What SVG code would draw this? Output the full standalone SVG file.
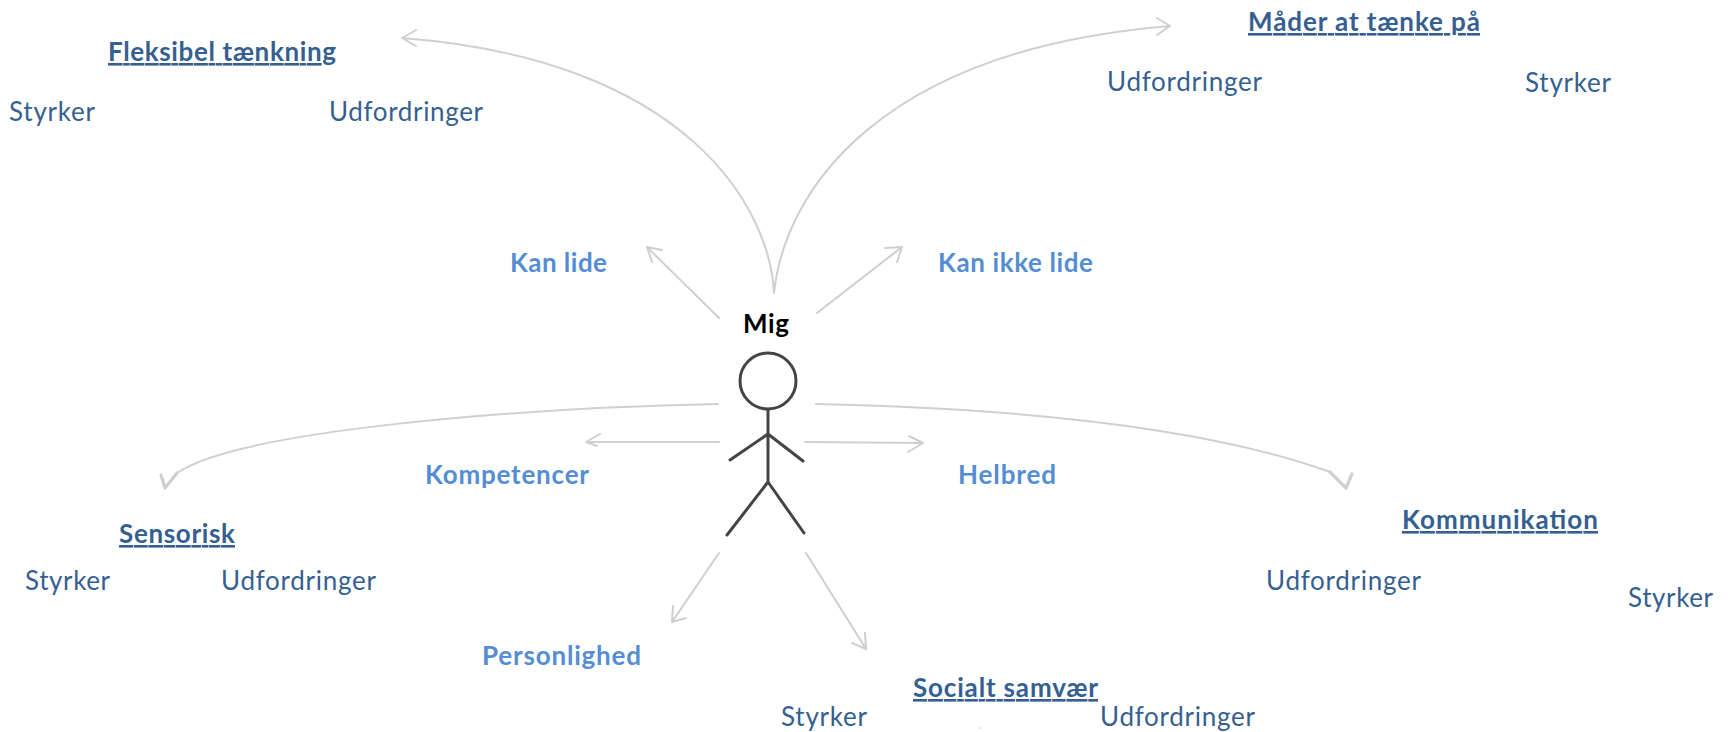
<svg xmlns="http://www.w3.org/2000/svg" width="1731" height="732" viewBox="0 0 1731 732">
<style>
text{font-family:"Lato","Open Sans","Liberation Sans",sans-serif;font-size:26px}
.h{font-weight:700;fill:#365f91;text-decoration:underline}
.s{fill:#365f91}
.k{font-weight:700;fill:#548dd4}
.m{font-weight:700;fill:#000}
.c{fill:none;stroke:#cfcfcf;stroke-width:2;stroke-linecap:round;stroke-linejoin:round}
.t{stroke-width:3.2}
.f{fill:none;stroke:#444;stroke-width:3;stroke-linecap:round}
</style>
<rect width="1731" height="732" fill="#fff"/>
<g id="connectors">
<path class="c" d="M774,293C770,210 690,60 402,38M416,30L402,38L416,46"/>
<path class="c" d="M774,293C785,190 880,50 1170,26M1157,18L1170,26L1157,35"/>
<path class="c" d="M719,318L647,247M662,250L647,247L652,262"/>
<path class="c" d="M817,313L902,247M885,248L902,247L897,262"/>
<path class="c" d="M718,404C520,408 240,430 177,473"/>
<path class="c t" d="M161,475L165,488L177,473"/>
<path class="c" d="M816,404C1000,408 1200,425 1330,472"/>
<path class="c t" d="M1330,472L1346,488L1352,474"/>
<path class="c" d="M719,442L586,442M600,434L586,442L597,446"/>
<path class="c" d="M805,442L923,443M909,436L923,443L908,452"/>
<path class="c" d="M719,553L672,622M686,618L672,622L673,606"/>
<path class="c" d="M806,553L866,649M852,643L866,649L865,633"/>
</g>
<g id="mig">
<text class="m" x="743" y="333" textLength="46">Mig</text>
<circle class="f" cx="768" cy="381" r="28"/>
<path class="f" d="M768,409V482M768,434L730,460M768,434L803,461M768,482L727,535M768,482L804,533"/>
</g>
<g id="kan-lide"><text class="k" x="510" y="272" textLength="97">Kan lide</text></g>
<g id="kan-ikke-lide"><text class="k" x="938" y="272" textLength="155">Kan ikke lide</text></g>
<g id="kompetencer"><text class="k" x="425" y="484" textLength="164">Kompetencer</text></g>
<g id="helbred"><text class="k" x="958" y="484" textLength="98">Helbred</text></g>
<g id="personlighed"><text class="k" x="482" y="665" textLength="159">Personlighed</text></g>
<g id="fleksibel">
<text class="h" x="108" y="61" textLength="228">Fleksibel tænkning</text>
<text class="s" x="9" y="121" textLength="86">Styrker</text>
<text class="s" x="329" y="121" textLength="154">Udfordringer</text>
</g>
<g id="maader">
<text class="h" x="1248" y="31" textLength="232">Måder at tænke på</text>
<text class="s" x="1107" y="91" textLength="155">Udfordringer</text>
<text class="s" x="1525" y="92" textLength="86">Styrker</text>
</g>
<g id="sensorisk">
<text class="h" x="119" y="543" textLength="116">Sensorisk</text>
<text class="s" x="25" y="590" textLength="85">Styrker</text>
<text class="s" x="221" y="590" textLength="155">Udfordringer</text>
</g>
<g id="kommunikation">
<text class="h" x="1402" y="529" textLength="196">Kommunikation</text>
<text class="s" x="1266" y="590" textLength="155">Udfordringer</text>
<text class="s" x="1628" y="607" textLength="85">Styrker</text>
</g>
<g id="socialt">
<text class="h" x="913" y="697" textLength="185">Socialt samvær</text>
<text class="s" x="781" y="726" textLength="86">Styrker</text>
<text class="s" x="1100" y="726" textLength="155">Udfordringer</text>
</g>
<circle cx="979.5" cy="728" r="0.8" fill="#b9b3e8"/>
</svg>
